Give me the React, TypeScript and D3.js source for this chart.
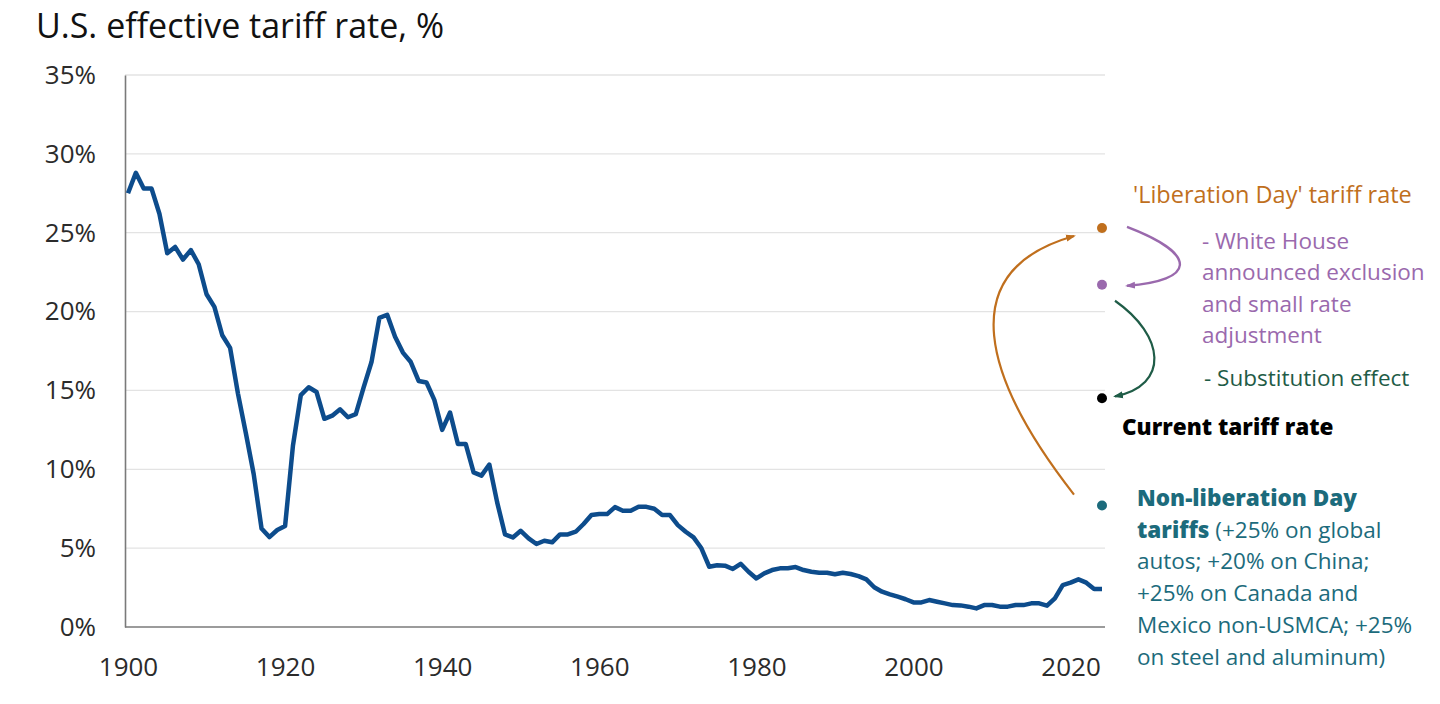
import React, {useEffect, useRef} from 'react';
import * as d3 from 'd3';

// U.S. effective tariff rate, yearly, %
const years: number[] = d3.range(1900, 2025);
const tariffRate: number[] = [
  27.5, 28.8, 27.8, 27.8, 26.2, 23.7, 24.1, 23.3, 23.9, 23.0,
  21.1, 20.3, 18.5, 17.7, 14.8, 12.3, 9.7, 6.25, 5.7, 6.15,
  6.4, 11.5, 14.7, 15.2, 14.9, 13.2, 13.4, 13.8, 13.3, 13.5,
  15.2, 16.8, 19.6, 19.8, 18.4, 17.4, 16.8, 15.6, 15.5, 14.4,
  12.5, 13.6, 11.6, 11.6, 9.8, 9.6, 10.3, 7.9, 5.87, 5.68,
  6.1, 5.62, 5.26, 5.47, 5.37, 5.87, 5.87, 6.04, 6.53, 7.1,
  7.16, 7.16, 7.6, 7.37, 7.37, 7.62, 7.62, 7.5, 7.1, 7.1,
  6.46, 6.04, 5.68, 4.99, 3.82, 3.91, 3.89, 3.68, 4.01, 3.5,
  3.08, 3.4, 3.61, 3.72, 3.72, 3.8, 3.61, 3.5, 3.44, 3.44,
  3.34, 3.44, 3.36, 3.23, 3.02, 2.52, 2.24, 2.07, 1.92, 1.76,
  1.56, 1.56, 1.71, 1.6, 1.5, 1.39, 1.37, 1.29, 1.18, 1.39,
  1.39, 1.29, 1.29, 1.39, 1.39, 1.5, 1.5, 1.35, 1.82, 2.66,
  2.81, 3.02, 2.81, 2.41, 2.41,
];

// scenario dots, all placed at 2024
const scenarioNames = ['liberation', 'exclusion', 'current', 'nonLiberation'];
const scenarioRates = [25.3, 21.7, 14.5, 7.7];
const scenarioColors = ['#c06f1d', '#9a69ad', '#000000', '#1c6b7c'];

const yTicks = [0, 5, 10, 15, 20, 25, 30, 35];
const xTicks = [1900, 1920, 1940, 1960, 1980, 2000, 2020];

const FONT = '"Open Sans", Lato, sans-serif';

export default function App() {
  const ref = useRef<SVGSVGElement>(null);

  useEffect(() => {
    const svg = d3.select(ref.current);
    svg.selectAll('*').remove();

    const x = d3.scaleLinear().domain([1900, 2024]).range([128, 1102]);
    const y = d3.scaleLinear().domain([0, 35]).range([627, 75]);
    const left = 125;
    const right = 1105;

    // title
    svg.append('text')
        .attr('x', 36)
        .attr('y', 38)
        .attr('font-size', 34)
        .attr('fill', '#111')
        .text('U.S. effective tariff rate, %');

    // gridlines
    svg.append('g')
        .selectAll('line')
        .data(yTicks.filter((d) => d > 0))
        .join('line')
        .attr('x1', left)
        .attr('x2', right)
        .attr('y1', (d) => y(d))
        .attr('y2', (d) => y(d))
        .attr('stroke', '#e3e3e3')
        .attr('stroke-width', 1.3);

    // y axis
    const yAxis = svg.append('g')
        .attr('transform', `translate(${left},0)`)
        .call(d3.axisLeft(y).tickValues(yTicks)
            .tickSize(0).tickPadding(29)
            .tickFormat((d) => `${d}%`));
    yAxis.select('.domain').attr('stroke', '#7a7a7a').attr('stroke-width', 1.6);
    yAxis.selectAll('text')
        .attr('font-size', 26)
        .attr('font-family', FONT)
        .attr('fill', '#2b2b2b');

    // x axis
    const xAxis = svg.append('g')
        .attr('transform', `translate(0,${y(0)})`)
        .call(d3.axisBottom(x).tickValues(xTicks)
            .tickSize(0).tickPadding(31)
            .tickFormat(d3.format('d')));
    xAxis.select('.domain')
        .attr('d', `M${left},0H${right}`)
        .attr('stroke', '#7a7a7a').attr('stroke-width', 1.6);
    xAxis.selectAll('text')
        .attr('font-size', 26)
        .attr('font-family', FONT)
        .attr('fill', '#2b2b2b');

    // main line
    const line = d3.line<number>()
        .x((d, i) => x(years[i]))
        .y((d) => y(d));
    svg.append('path')
        .datum(tariffRate)
        .attr('d', line)
        .attr('fill', 'none')
        .attr('stroke', '#0d4c8c')
        .attr('stroke-width', 4.5)
        .attr('stroke-linejoin', 'round');

    const greenArrow = '#1f5c47';
    const arrowColors = [scenarioColors[0], scenarioColors[1], greenArrow];

    // arrow markers, small filled heads
    const defs = svg.append('defs');
    arrowColors.forEach((c, i) => {
      defs.append('marker')
          .attr('id', 'arrow' + i)
          .attr('viewBox', '0 0 10 10')
          .attr('refX', 8)
          .attr('refY', 5)
          .attr('markerWidth', 10)
          .attr('markerHeight', 10)
          .attr('markerUnits', 'userSpaceOnUse')
          .attr('orient', 'auto')
          .append('path')
          .attr('d', 'M0,1.5L10,5L0,8.5z')
          .attr('fill', c);
    });

    const xd = x(2024);
    const yLib = y(scenarioRates[0]);
    const yExc = y(scenarioRates[1]);
    const yCur = y(scenarioRates[2]);
    const yNon = y(scenarioRates[3]);

    // orange: non-liberation -> liberation
    svg.append('path')
        .attr('d', `M${xd - 28},${yNon - 11} C${xd - 117},${yNon - 125} ` +
          `${xd - 152},${yLib + 43} ${xd - 28},${yLib + 8}`)
        .attr('fill', 'none')
        .attr('stroke', arrowColors[0])
        .attr('stroke-width', 2.2)
        .attr('marker-end', 'url(#arrow0)');

    // purple: liberation -> exclusion
    svg.append('path')
        .attr('d', `M${xd + 25},${yLib - 1} C${xd + 98},${yLib + 27} ` +
          `${xd + 93},${yExc - 4} ${xd + 25},${yExc + 1}`)
        .attr('fill', 'none')
        .attr('stroke', arrowColors[1])
        .attr('stroke-width', 2.4)
        .attr('marker-end', 'url(#arrow1)');

    // green: exclusion -> current
    svg.append('path')
        .attr('d', `M${xd + 13},${yExc + 16} C${xd + 63},${yExc + 51} ` +
          `${xd + 68},${yCur - 13} ${xd + 13},${yCur - 2}`)
        .attr('fill', 'none')
        .attr('stroke', arrowColors[2])
        .attr('stroke-width', 2.2)
        .attr('marker-end', 'url(#arrow2)');

    // scenario dots
    svg.append('g')
        .selectAll('circle')
        .data(scenarioRates)
        .join('circle')
        .attr('cx', xd)
        .attr('cy', (d) => y(d))
        .attr('r', 5)
        .attr('fill', (d, i) => scenarioColors[i]);

    // annotation text
    const note = (tx: number, ty: number, str: string, color: string,
        weight = 400, size = 22.5) =>
      svg.append('text')
          .attr('x', tx)
          .attr('y', ty)
          .attr('dy', '0.35em')
          .attr('font-size', size)
          .attr('font-weight', weight)
          .attr('fill', color)
          .text(str);

    note(1133, 195, '\'Liberation Day\' tariff rate', scenarioColors[0],
        400, 23.5);
    ['- White House', 'announced exclusion', 'and small rate', 'adjustment']
        .forEach((s, i) => note(1202, 241 + i * 31.5, s, scenarioColors[1]));
    note(1204, 378, '- Substitution effect', greenArrow);
    note(1122, 427, 'Current tariff rate', '#000', 800);

    const teal = scenarioColors[3];
    note(1137, 498, 'Non-liberation Day', teal, 800);
    const t2 = note(1137, 530, '', teal);
    t2.append('tspan').attr('font-weight', 800).text('tariffs');
    t2.append('tspan').text(' (+25% on global');
    ['autos; +20% on China;', '+25% on Canada and',
      'Mexico non-USMCA; +25%', 'on steel and aluminum)']
        .forEach((s, i) => note(1137, 561.5 + i * 31.8, s, teal));
  }, []);

  return (
    <svg ref={ref} width={1440} height={704}
      style={{position: 'absolute', left: 0, top: 0, background: '#fff',
        fontFamily: FONT}} />
  );
}
